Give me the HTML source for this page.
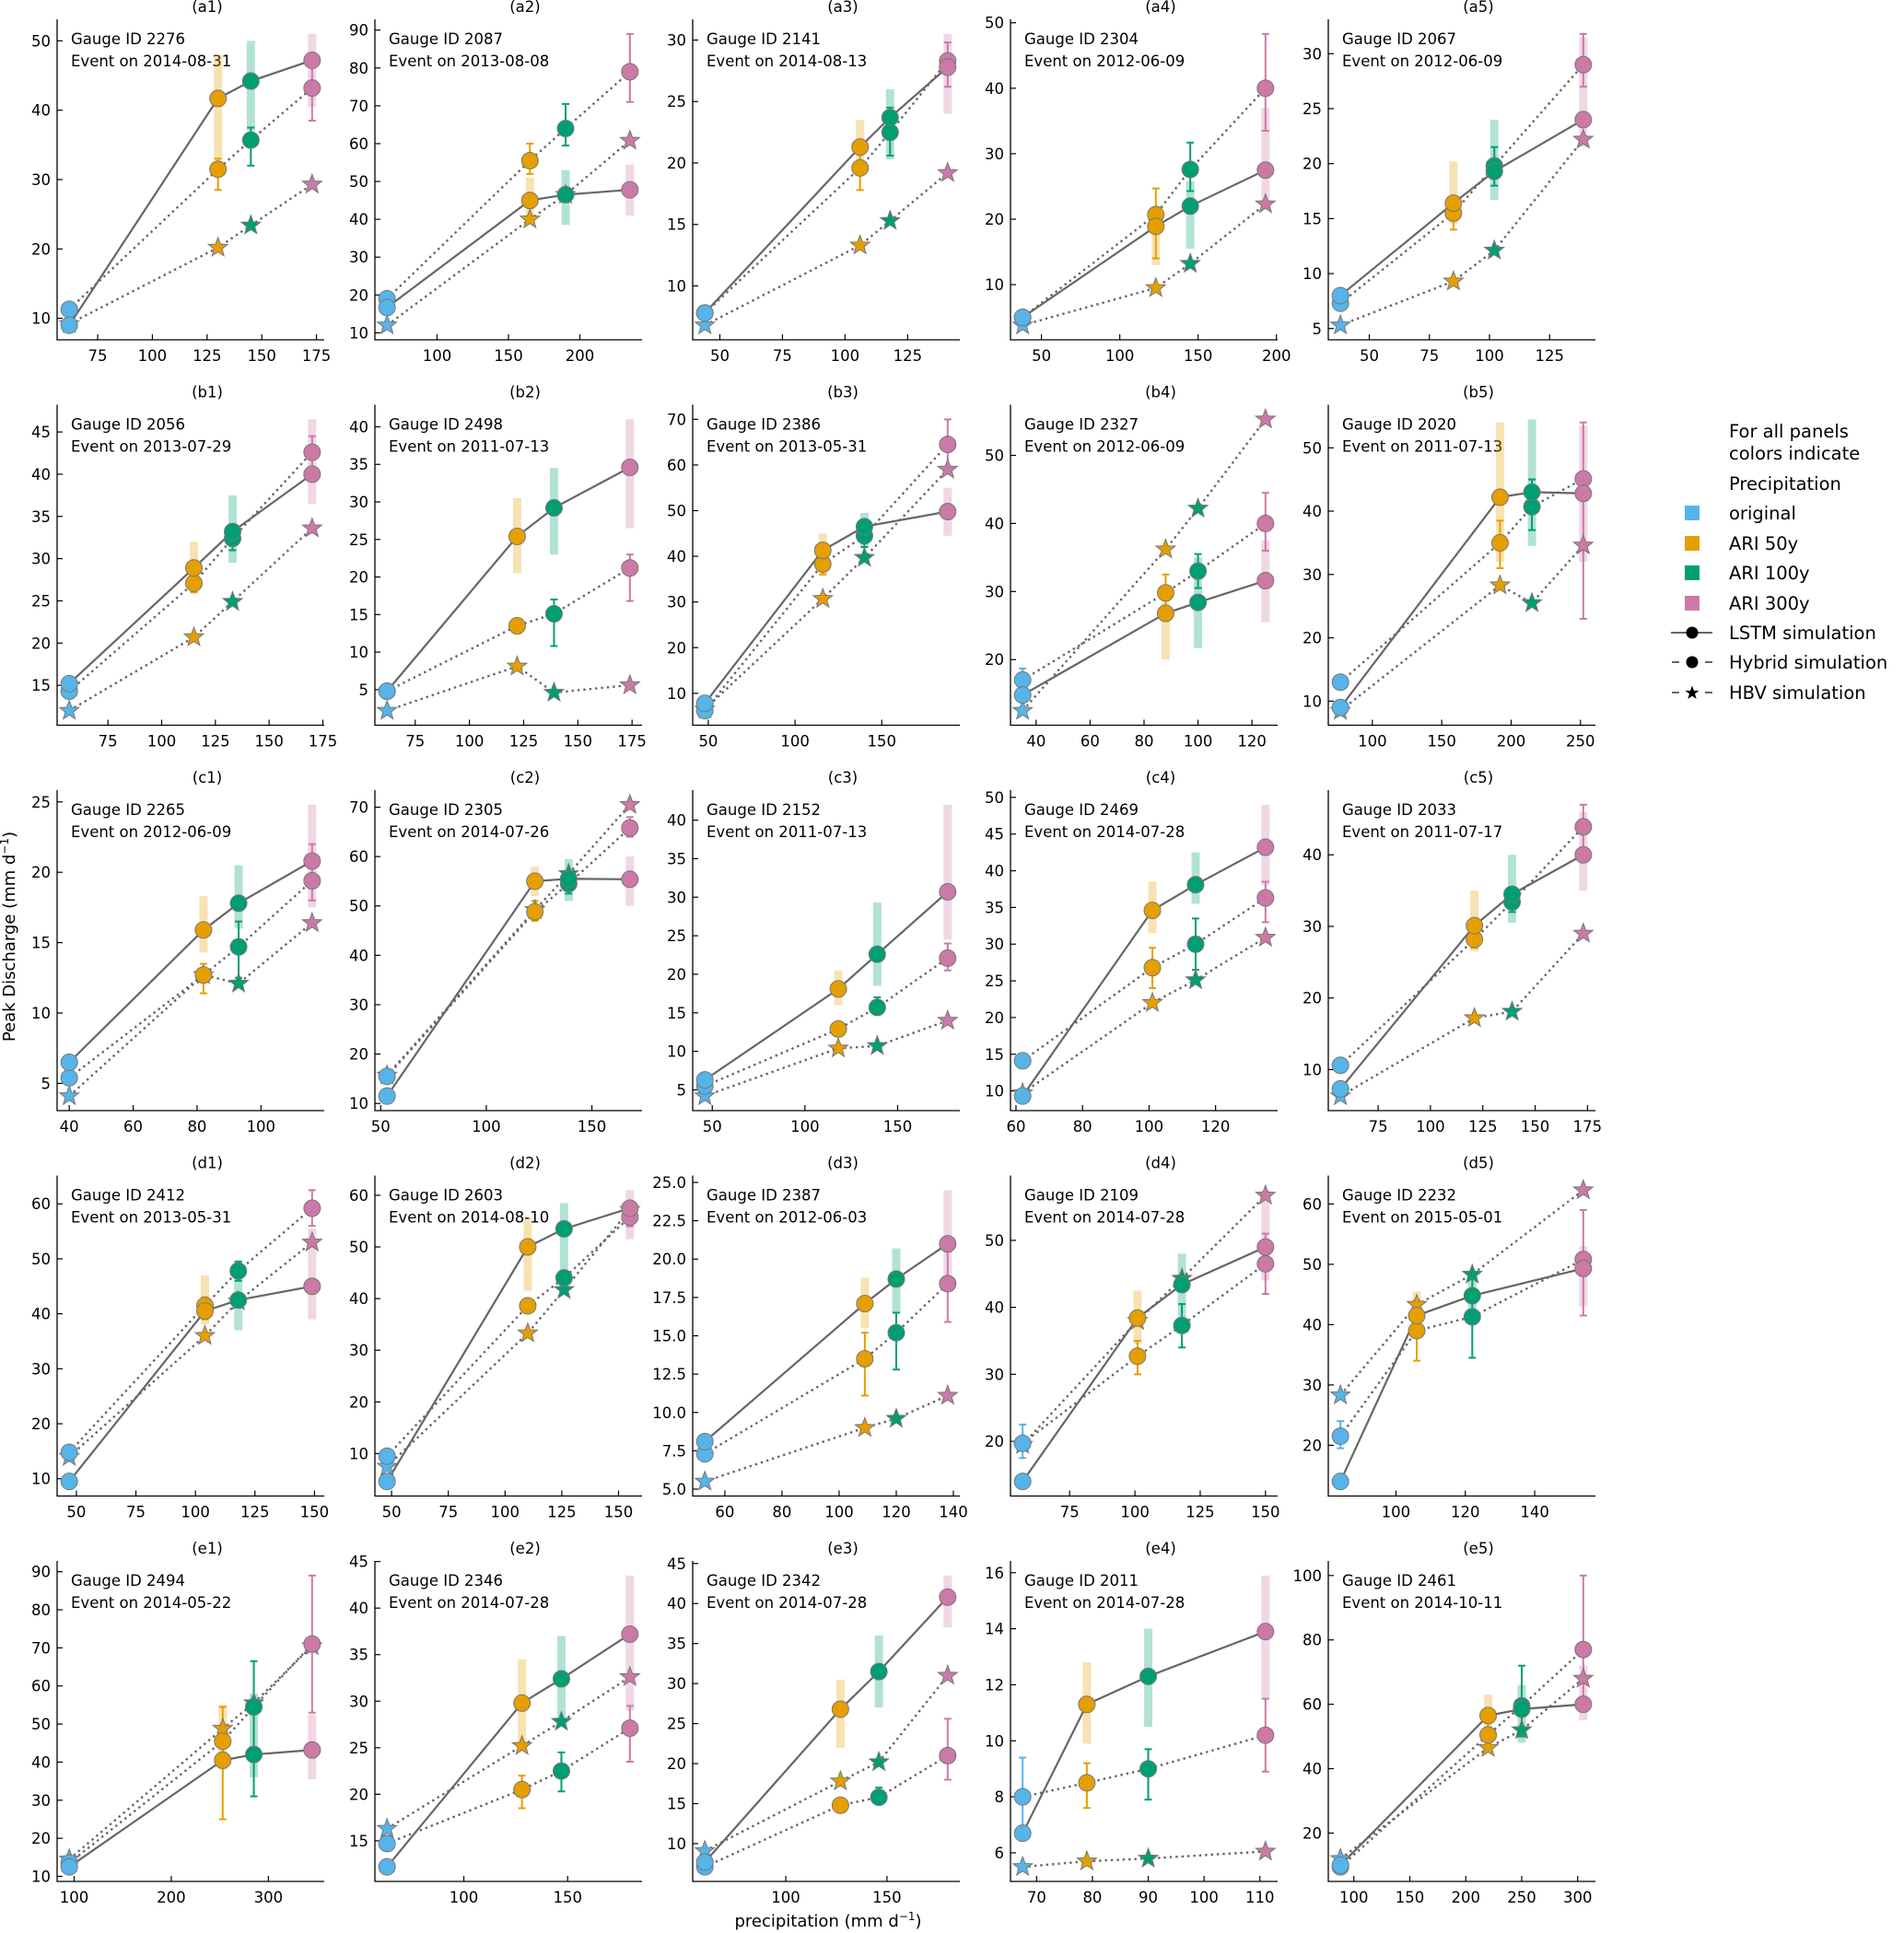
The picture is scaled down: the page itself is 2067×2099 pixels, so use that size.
<!DOCTYPE html>
<html><head><meta charset="utf-8"><style>
html,body{margin:0;padding:0;background:#fff;}
svg{display:block;font-family:"DejaVu Sans","Liberation Sans",sans-serif;}
</style></head><body>
<svg id="fig" xmlns="http://www.w3.org/2000/svg" width="2067" height="2099" viewBox="0 0 2067 2099">
<rect x="0" y="0" width="2067" height="2099" fill="#fff"/>
<text x="0" y="0" transform="translate(16,1017) rotate(-90)" text-anchor="middle" font-size="18" fill="#000">Peak Discharge (mm d<tspan baseline-shift="super" font-size="12">−1</tspan>)</text>
<text x="899" y="2092" text-anchor="middle" font-size="18" fill="#000">precipitation (mm d<tspan baseline-shift="super" font-size="12">−1</tspan>)</text>
<g font-size="19.5" fill="#000">
<text x="1877" y="475">For all panels</text>
<text x="1877" y="499">colors indicate</text>
<text x="1877" y="532">Precipitation</text>
<rect x="1829" y="549" width="16" height="16" fill="#56B4E9"/>
<text x="1877" y="564">original</text>
<rect x="1829" y="582" width="16" height="16" fill="#E69F00"/>
<text x="1877" y="597">ARI 50y</text>
<rect x="1829" y="614" width="16" height="16" fill="#009E73"/>
<text x="1877" y="629">ARI 100y</text>
<rect x="1829" y="647" width="16" height="16" fill="#CC79A7"/>
<text x="1877" y="662">ARI 300y</text>
<line x1="1814" y1="687" x2="1859" y2="687" stroke="#666" stroke-width="2"/>
<circle cx="1837" cy="687" r="6.5" fill="#000"/>
<text x="1877" y="694">LSTM simulation</text>
<line x1="1815" y1="719" x2="1823" y2="719" stroke="#666" stroke-width="2"/>
<line x1="1851" y1="719" x2="1859" y2="719" stroke="#666" stroke-width="2"/>
<circle cx="1837" cy="719" r="6.5" fill="#000"/>
<text x="1877" y="726">Hybrid simulation</text>
<line x1="1815" y1="752" x2="1823" y2="752" stroke="#666" stroke-width="2"/>
<line x1="1851" y1="752" x2="1859" y2="752" stroke="#666" stroke-width="2"/>
<path d="M1837,744.5 L1839,750 L1844.5,750 L1840,753.5 L1841.7,759 L1837,755.7 L1832.3,759 L1834,753.5 L1829.5,750 L1835,750 Z" fill="#000"/>
<text x="1877" y="759">HBV simulation</text>
</g>
<g id="panels"></g>
</svg>
<script>
const panelIds = ["a1","a2","a3","a4","a5","b1","b2","b3","b4","b5","c1","c2","c3","c4","c5","d1","d2","d3","d4","d5","e1","e2","e3","e4","e5"];
const gaugeIds = ["2276","2087","2141","2304","2067","2056","2498","2386","2327","2020","2265","2305","2152","2469","2033","2412","2603","2387","2109","2232","2494","2346","2342","2011","2461"];
const eventDates = ["2014-08-31","2013-08-08","2014-08-13","2012-06-09","2012-06-09","2013-07-29","2011-07-13","2013-05-31","2012-06-09","2011-07-13","2012-06-09","2014-07-26","2011-07-13","2014-07-28","2011-07-17","2013-05-31","2014-08-10","2012-06-03","2014-07-28","2015-05-01","2014-05-22","2014-07-28","2014-07-28","2014-07-28","2014-10-11"];
const precip = [[62,130,145,173],[65,165,190,235],[44,106,118,141],[38,123,145,193],[38,85,102,139],
[57,115,133,170],[62,122,139,174],[48,116,140,188],[35,88,100,125],[77,192,215,252],
[40,82,93,116],[53,123,139,168],[46,118,139,177],[62,101,114,135],[57,121,139,173],
[47,104,118,149],[48,110,126,155],[53,109,120,138],[57,101,118,150],[84,106,122,154],
[95,253,285,345],[63,128,147,180],[60,127,146,180],[67.5,79,90,111],[88,220,250,305]];
const lstm = [[9,41.7,44.2,47.2],[16.7,45,46.5,47.8],[7.8,21.3,23.7,27.8],[5,18.9,22,27.5],[8,16.4,19.3,24],
[15.2,28.9,33.2,40],[4.8,25.4,29.2,34.6],[7.8,41.3,46.5,49.8],[14.8,26.8,28.4,31.6],[9,42.2,43,42.8],
[6.5,15.9,17.8,20.8],[11.5,55,55.5,55.4],[6.3,18.1,22.6,30.7],[9.3,34.6,38.1,43.2],[7.3,30.1,34.5,40],
[9.5,40.5,42.5,45],[4.6,50,53.5,57.5],[8.1,17.1,18.7,21],[14,38.4,43.4,49],[14,41.5,44.8,49.3],
[12.5,40.5,42,43.2],[12.2,29.8,32.4,37.2],[7.7,26.8,31.5,40.8],[6.7,11.3,12.3,13.9],[10,56.5,58.5,60]];
const hybrid = [[11.3,31.5,35.7,43.2],[19,55.5,64,79],[7.8,19.6,22.5,28.3],[5,20.7,27.6,40],[7.3,15.5,19.8,29],
[14.3,27.1,32.4,42.6],[4.8,13.5,15.1,21.2],[6.2,38.3,44.5,64.5],[17,29.8,33,40],[13,35,40.7,45.1],
[5.4,12.7,14.7,19.4],[15.5,48.8,54.5,65.8],[5.5,12.9,15.7,22.1],[14.1,26.8,30,36.3],[10.6,28.2,33.4,43.9],
[14.8,41.5,47.8,59.2],[9.5,38.6,44,55.8],[7.3,13.5,15.2,18.4],[19.7,32.7,37.3,46.5],[21.5,39,41.3,50.8],
[13.5,45.5,54.5,71],[14.7,20.5,22.5,27.1],[7.1,14.8,15.8,21],[8,8.5,9,10.2],[9.5,50.5,59.5,77]];
const hbv = [[9.2,20.2,23.4,29.3],[12,40,46.5,60.8],[6.8,13.3,15.3,19.2],[3.8,9.5,13.2,22.3],[5.3,9.3,12.1,22.2],
[12,20.7,24.9,33.6],[2.2,8.1,4.6,5.6],[6.5,30.7,39.7,59],[12.5,36.2,42.2,55.3],[8.5,28.3,25.5,34.6],
[4.1,12.7,12.1,16.4],[15.7,49.2,56.5,70.5],[4.2,10.4,10.7,14],[9.7,22,25.1,30.9],[6.3,17.2,18.1,29],
[14,36,42.3,53],[7.5,33.3,41.7,57.2],[5.5,9,9.6,11.1],[19.5,38,44.3,56.7],[28.3,43.3,48.3,62.3],
[14.5,48.8,55.5,70.5],[16.3,25.2,27.8,32.6],[9.1,17.8,20.2,31],[5.5,5.7,5.8,6.05],[12,46.5,52,68]];
const lstmLo = [[null,33,37,40.5],[null,40,38.5,41],[null,20,20.3,24],[null,13,15.5,22],[null,14.5,16.7,21.5],
[null,26,29.5,36.5],[null,20.5,23,26.5],[null,36,42,44.5],[null,20,21.7,25.5],[null,32,34.5,32],
[null,14.3,16,17.5],[null,52,51,50],[null,16,18.5,24.5],[null,31.5,35.5,38],[null,26.5,30.5,35],
[null,38,37,39],[null,41.5,45.5,51.5],[null,15.5,16.5,18],[null,34.5,38.5,44],[null,39,40,43],
[null,38,36,35.5],[null,25,28,29],[null,22,27,37],[null,9.9,10.5,11.5],[null,48,48,55]];
const lstmHi = [[null,48,50,51],[null,51,53,54.5],[null,23.5,26,30.5],[null,22,25.8,37],[null,20.2,24,31.5],
[null,32,37.5,46.5],[null,30.5,34.5,41],[null,45,49.5,55],[null,30,35,37.5],[null,54,54.5,53.5],
[null,18.3,20.5,24.8],[null,58,59.5,60],[null,20.5,29.3,42],[null,38.5,42.5,49],[null,35,40,46],
[null,47,49.5,55.5],[null,55.5,58.5,61],[null,18.8,20.7,24.5],[null,42.5,48,57.5],[null,45.5,47.5,53],
[null,55,58,52.5],[null,34.5,37,43.5],[null,30.5,36,43.5],[null,12.8,14,15.9],[null,63,66,72]];
const hybLo = [[null,28.5,32,38.5],[null,52,59.5,71],[null,17.8,20.6,26.2],[null,14,24.3,33.5],[null,14,18,27],
[null,26,31,40.5],[null,12.5,10.8,16.8],[null,36,42,59],[16,27,30.5,36],[null,31,37,23],
[null,11.4,12.5,18],[null,47,52.5,64],[null,12,14.8,20.5],[null,24,26.5,33],[null,27,32,41],
[null,39,46,56],[null,38,42,54],[null,11.1,12.8,15.9],[17.5,30,34,42],[19.5,34,34.5,41.5],
[null,25,31,53],[null,18.5,20.3,23.5],[null,14.2,15,18],[6.7,7.6,7.9,8.9],[null,46,50,62]];
const hybHi = [[null,33,37.5,47],[null,60,70.5,89],[null,21.5,24.5,29.8],[null,24.7,31.7,48.3],[null,16.5,21.5,31.8],
[null,28.5,34,44.5],[null,14.5,17,23],[null,40.5,48,70],[18.7,32.5,35.5,44.5],[null,38.5,45,54],
[null,13.5,16.5,22],[null,51,57,68],[null,13.8,17,24],[null,29.5,33.5,38.5],[null,29.5,35,47],
[null,43,49.5,62.5],[null,40,45,58],[null,15.2,16.5,20.5],[22.5,35,40.5,51],[24,44,48,59],
[null,54.5,66.5,89],[null,22,24.5,29.5],[null,15.5,17,25.6],[9.4,9.2,9.7,11.5],[null,55,72,100]];
const xTicks = [[75,100,125,150,175],[100,150,200],[50,75,100,125],[50,100,150,200],[50,75,100,125],
[75,100,125,150,175],[75,100,125,150,175],[50,100,150],[40,60,80,100,120],[100,150,200,250],
[40,60,80,100],[50,100,150],[50,100,150],[60,80,100,120],[75,100,125,150,175],
[50,75,100,125,150],[50,75,100,125,150],[60,80,100,120,140],[75,100,125,150],[100,120,140],
[100,200,300],[100,150],[100,150],[70,80,90,100,110],[100,150,200,250,300]];
const yTicks = [[10,20,30,40,50],[10,20,30,40,50,60,70,80,90],[10,15,20,25,30],[10,20,30,40,50],[5,10,15,20,25,30],
[15,20,25,30,35,40,45],[5,10,15,20,25,30,35,40],[10,20,30,40,50,60,70],[20,30,40,50],[10,20,30,40,50],
[5,10,15,20,25],[10,20,30,40,50,60,70],[5,10,15,20,25,30,35,40],[10,15,20,25,30,35,40,45,50],[10,20,30,40],
[10,20,30,40,50,60],[10,20,30,40,50,60],[5,7.5,10,12.5,15,17.5,20,22.5,25],[20,30,40,50],[20,30,40,50,60],
[10,20,30,40,50,60,70,80,90],[15,20,25,30,35,40,45],[5,10,15,20,25,30,35,40,45],[6,8,10,12,14,16],[20,40,60,80,100]];

const colors = ["#56B4E9","#E69F00","#009E73","#CC79A7"];
const NS = "http://www.w3.org/2000/svg";
const X0 = 62, Y0 = 21, DX = 345, DY = 418.5, W = 290, H = 348;
const FS = 16.5;
const root = document.getElementById('panels');

function mk(parent, tag, attrs) {
  const el = document.createElementNS(NS, tag);
  for (const k in attrs) el.setAttribute(k, attrs[k]);
  parent.appendChild(el);
  return el;
}
function starPath(cx, cy, R, r) {
  let d = "";
  for (let i = 0; i < 10; i++) {
    const rad = i % 2 === 0 ? R : r;
    const a = -Math.PI / 2 + i * Math.PI / 5;
    d += (i === 0 ? "M" : "L") + (cx + rad * Math.cos(a)).toFixed(2) + "," + (cy + rad * Math.sin(a)).toFixed(2);
  }
  return d + "Z";
}

for (let p = 0; p < panelIds.length; p++) {
  const row = Math.floor(p / 5), col = p % 5;
  const left = X0 + col * DX, top = Y0 + row * DY;
  const xs = precip[p];
  let xmin = Math.min(...xs), xmax = Math.max(...xs);
  const xr = xmax - xmin; xmin -= 0.05 * xr; xmax += 0.05 * xr;
  const allY = [].concat(lstm[p], hybrid[p], hbv[p], lstmLo[p], lstmHi[p], hybLo[p], hybHi[p]).filter(v => v !== null);
  let ymin = Math.min(...allY), ymax = Math.max(...allY);
  const yr = ymax - ymin; ymin -= 0.05 * yr; ymax += 0.05 * yr;
  const sx = v => left + (v - xmin) / (xmax - xmin) * W;
  const sy = v => top + H - (v - ymin) / (ymax - ymin) * H;

  const g = mk(root, 'g', {});
  
  

  const title = mk(g, 'text', {x: left + W / 2 + 18, y: top - 8, 'text-anchor': 'middle', 'font-size': FS});
  
  
  title.textContent = '(' + panelIds[p] + ')';

  const ax = mk(g, 'path', {d: `M${left},${top}V${top + H}H${left + W}`, fill: 'none', stroke: '#000', 'stroke-width': 1.3});
  
  

  xTicks[p].forEach(t => {
    if (t < xmin || t > xmax) return;
    const x = sx(t);
    const tk = mk(g, 'line', {x1: x, y1: top + H, x2: x, y2: top + H - 6, stroke: '#000', 'stroke-width': 1.2});
    
    
    const lb = mk(g, 'text', {x: x, y: top + H + 23, 'text-anchor': 'middle', 'font-size': FS});
    
    
    lb.textContent = String(t);
  });
  const dec = yTicks[p].some(t => t % 1 !== 0);
  yTicks[p].forEach(t => {
    if (t < ymin || t > ymax) return;
    const y = sy(t);
    const tk = mk(g, 'line', {x1: left, y1: y, x2: left + 6, y2: y, stroke: '#000', 'stroke-width': 1.2});
    
    
    const lb = mk(g, 'text', {x: left - 7, y: y + 6, 'text-anchor': 'end', 'font-size': FS});
    
    
    lb.textContent = dec ? t.toFixed(1) : String(t);
  });

  const info1 = mk(g, 'text', {x: left + 15, y: top + 27, 'font-size': FS});
  
  
  info1.textContent = 'Gauge ID ' + gaugeIds[p];
  const info2 = mk(g, 'text', {x: left + 15, y: top + 51, 'font-size': FS});
  
  
  info2.textContent = 'Event on ' + eventDates[p];

  for (let i = 0; i < 4; i++) {
    if (lstmLo[p][i] === null) continue;
    const y1 = sy(lstmHi[p][i]), y2 = sy(lstmLo[p][i]);
    const b = mk(g, 'rect', {x: sx(xs[i]) - 4.5, y: y1, width: 9, height: y2 - y1, fill: colors[i], 'fill-opacity': 0.3});
    
    
  }

  const linePts = arr => arr.map((v, i) => sx(xs[i]).toFixed(2) + ',' + sy(v).toFixed(2)).join(' ');
  const l1 = mk(g, 'polyline', {points: linePts(lstm[p]), fill: 'none', stroke: '#666', 'stroke-width': 2.2});
  
  
  const l2 = mk(g, 'polyline', {points: linePts(hybrid[p]), fill: 'none', stroke: '#666', 'stroke-width': 2.4, 'stroke-dasharray': '2.4 4'});
  
  
  const l3 = mk(g, 'polyline', {points: linePts(hbv[p]), fill: 'none', stroke: '#666', 'stroke-width': 2.4, 'stroke-dasharray': '2.4 4'});
  
  

  for (let i = 0; i < 4; i++) {
    if (hybLo[p][i] === null) continue;
    const x = sx(xs[i]), ya = sy(hybLo[p][i]), yb = sy(hybHi[p][i]);
    const e = mk(g, 'path', {d: `M${x},${ya}V${yb}M${x - 4},${ya}H${x + 4}M${x - 4},${yb}H${x + 4}`, stroke: colors[i], 'stroke-width': 2, fill: 'none'});
    
    
  }

  for (let i = 0; i < 4; i++) {
    const s = mk(g, 'path', {d: starPath(sx(xs[i]), sy(hbv[p][i]), 11, 4.6), fill: colors[i], stroke: '#777', 'stroke-width': 1});
    
    
  }
  for (let i = 0; i < 4; i++) {
    const c = mk(g, 'circle', {cx: sx(xs[i]), cy: sy(hybrid[p][i]), r: 9, fill: colors[i], stroke: '#777', 'stroke-width': 1});
    
    
  }
  for (let i = 0; i < 4; i++) {
    const c = mk(g, 'circle', {cx: sx(xs[i]), cy: sy(lstm[p][i]), r: 9, fill: colors[i], stroke: '#777', 'stroke-width': 1});
    
    
  }
}
</script>
</body></html>
